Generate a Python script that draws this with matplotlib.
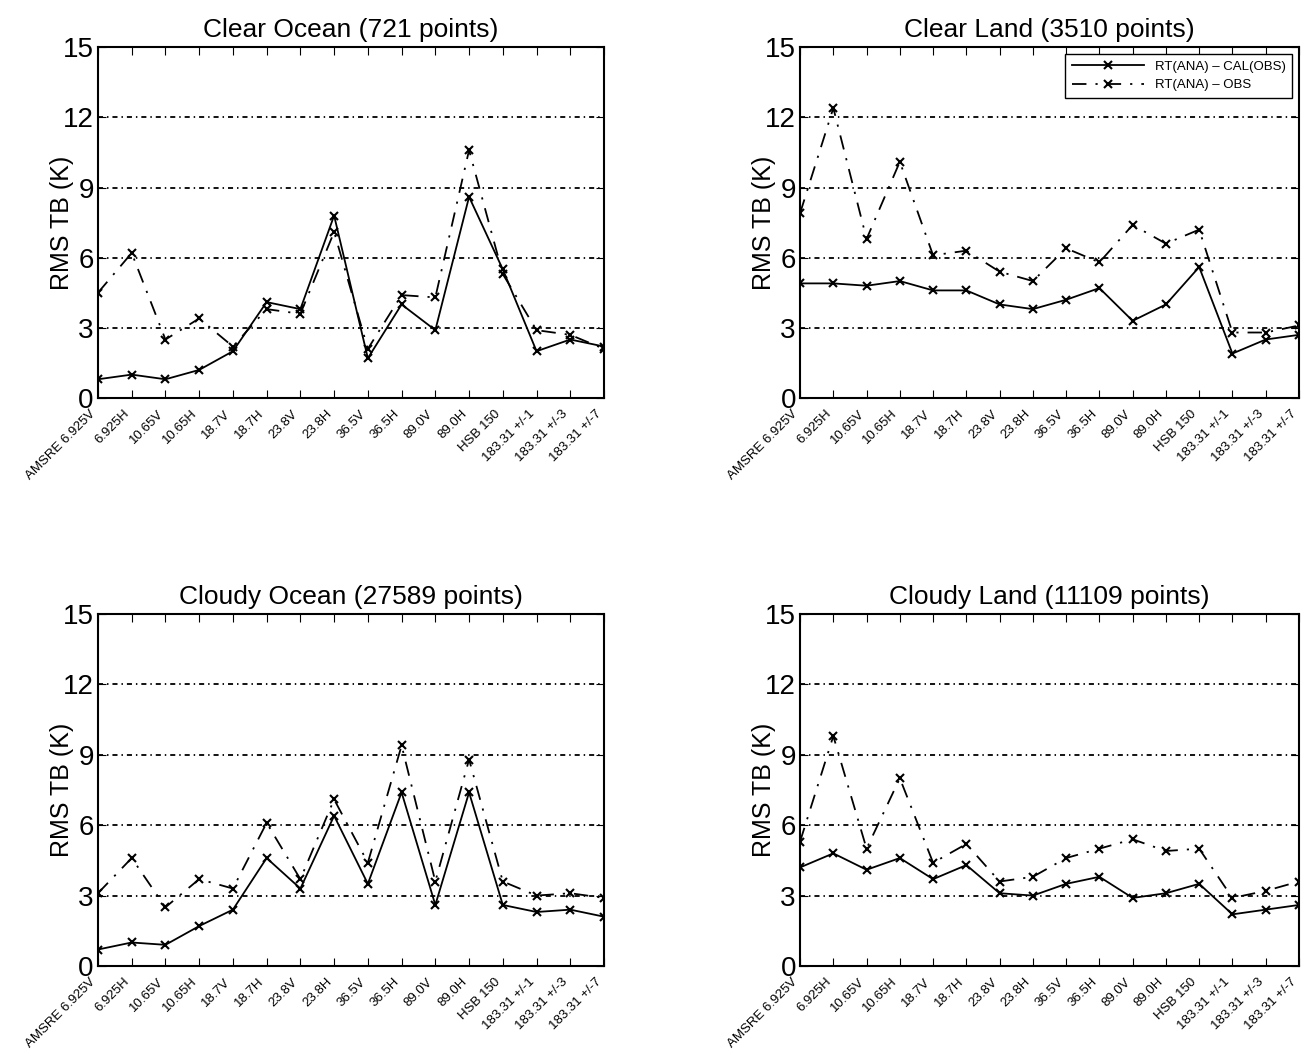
import matplotlib
matplotlib.use("Agg")
import matplotlib.pyplot as plt
import numpy as np

plt.rcParams['font.family'] = ['Liberation Sans', 'DejaVu Sans']

channels = ["AMSRE 6.925V", "6.925H", "10.65V", "10.65H", "18.7V", "18.7H",
            "23.8V", "23.8H", "36.5V", "36.5H", "89.0V", "89.0H", "HSB 150",
            "183.31 +/-1", "183.31 +/-3", "183.31 +/-7"]

clear_ocean_cal = [0.8, 1.0, 0.8, 1.2, 2.0, 4.1, 3.8, 7.8, 1.7, 4.0, 2.9, 8.6, 5.5, 2.0, 2.5, 2.2]
clear_ocean_obs = [4.5, 6.2, 2.5, 3.4, 2.2, 3.8, 3.6, 7.1, 2.1, 4.4, 4.3, 10.6, 5.3, 2.9, 2.7, 2.1]

clear_land_cal = [4.9, 4.9, 4.8, 5.0, 4.6, 4.6, 4.0, 3.8, 4.2, 4.7, 3.3, 4.0, 5.6, 1.9, 2.5, 2.7]
clear_land_obs = [7.9, 12.4, 6.8, 10.1, 6.1, 6.3, 5.4, 5.0, 6.4, 5.8, 7.4, 6.6, 7.2, 2.8, 2.8, 3.1]

cloudy_ocean_cal = [0.7, 1.0, 0.9, 1.7, 2.4, 4.6, 3.3, 6.4, 3.5, 7.4, 2.6, 7.4, 2.6, 2.3, 2.4, 2.1]
cloudy_ocean_obs = [3.1, 4.6, 2.5, 3.7, 3.3, 6.1, 3.7, 7.1, 4.4, 9.4, 3.6, 8.8, 3.6, 3.0, 3.1, 2.9]

cloudy_land_cal = [4.2, 4.8, 4.1, 4.6, 3.7, 4.3, 3.1, 3.0, 3.5, 3.8, 2.9, 3.1, 3.5, 2.2, 2.4, 2.6]
cloudy_land_obs = [5.3, 9.8, 5.0, 8.0, 4.4, 5.2, 3.6, 3.8, 4.6, 5.0, 5.4, 4.9, 5.0, 2.9, 3.2, 3.6]

titles = ["Clear Ocean (721 points)", "Clear Land (3510 points)",
          "Cloudy Ocean (27589 points)", "Cloudy Land (11109 points)"]
series = [(clear_ocean_cal, clear_ocean_obs), (clear_land_cal, clear_land_obs),
          (cloudy_ocean_cal, cloudy_ocean_obs), (cloudy_land_cal, cloudy_land_obs)]

fig = plt.figure(figsize=(13.06, 10.63), dpi=100)
positions = [[0.075, 0.6256, 0.3875, 0.330],
             [0.6126, 0.6256, 0.382, 0.330],
             [0.075, 0.0913, 0.3875, 0.331],
             [0.6126, 0.0913, 0.382, 0.331]]

x = np.arange(len(channels))
for i in range(4):
    ax = fig.add_axes(positions[i])
    cal, obs = series[i]
    for yv in [3, 6, 9, 12]:
        ax.axhline(yv, color='k', lw=1.3, linestyle=(0, (2.8, 2.2, 0.8, 2.2)), zorder=1)
    ax.plot(x, cal, color='k', lw=1.3, marker='x', ms=6, mew=1.5,
            label="RT(ANA) \u2013 CAL(OBS)", zorder=3)
    ax.plot(x, obs, color='k', lw=1.3, marker='x', ms=6, mew=1.5,
            linestyle=(0, (8, 5, 1.2, 5)), label="RT(ANA) \u2013 OBS", zorder=3)
    ax.set_xlim(0, len(channels) - 1)
    ax.set_ylim(0, 15)
    ax.set_yticks([0, 3, 6, 9, 12, 15])
    ax.set_xticks(x)
    ax.set_xticklabels(channels, rotation=45, ha='right', fontsize=9.5)
    ax.tick_params(axis='y', labelsize=20, direction='in', right=True, length=6, pad=3)
    ax.tick_params(axis='x', direction='in', top=True, length=6, pad=7)
    ax.set_ylabel("RMS TB (K)", fontsize=18)
    ax.yaxis.set_label_coords(-0.048, 0.5)
    ax.set_title(titles[i], fontsize=19, pad=7)
    for s in ax.spines.values():
        s.set_linewidth(1.5)
    if i == 1:
        ax.legend(loc='upper right', fontsize=9.5, frameon=True, fancybox=False,
                  edgecolor='k', handlelength=5.5, borderpad=0.5, framealpha=1)

fig.savefig("out.png", dpi=100)
